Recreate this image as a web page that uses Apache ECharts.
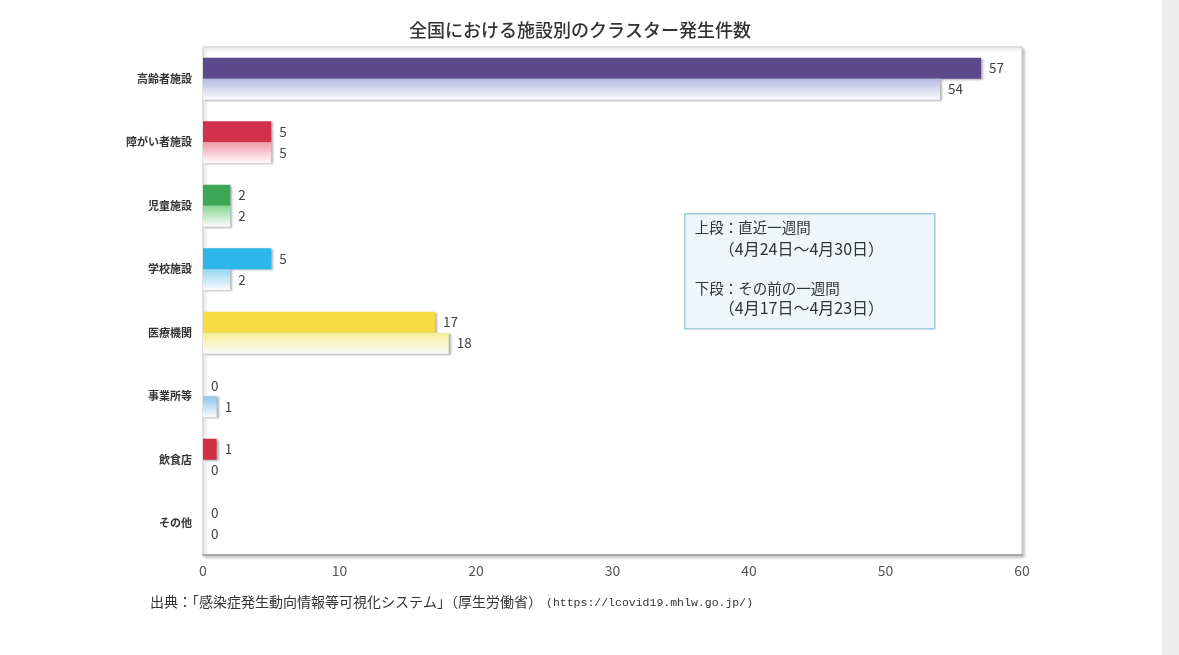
<!DOCTYPE html>
<html>
<head>
<meta charset="utf-8">
<script src="https://cdn.jsdelivr.net/npm/echarts@6/dist/echarts.min.js"></script>
<style>
  html, body { margin: 0; padding: 0; background: #fff; }
  #chart { width: 1179px; height: 655px; }
</style>
</head>
<body>
<div id="chart"></div>
<script>
// 施設の種類
const categories = ['高齢者施設', '障がい者施設', '児童施設', '学校施設', '医療機関', '事業所等', '飲食店', 'その他'];
// 上段：直近一週間（4月24日～4月30日）
const currentWeek = [57, 5, 2, 5, 17, 0, 1, 0];
// 下段：その前の一週間（4月17日～4月23日）
const previousWeek = [54, 5, 2, 2, 18, 1, 0, 0];
const xTicks = [0, 10, 20, 30, 40, 50, 60];

// 色（上段は濃い色、下段は薄いグラデーション）
const solidColors = ['#5a4a8c', '#d2314c', '#3ba757', '#2db6e9', '#f9dc45', '#4aa6dd', '#cf2e45', '#999999'];
const lightColors = ['#b3bbe0', '#f59aa9', '#86d893', '#93d7f3', '#f7ee93', '#8fc4ea', '#f29aa6', '#dddddd'];

const fade = (c) => ({
  type: 'linear', x: 0, y: 0, x2: 0, y2: 1,
  colorStops: [{ offset: 0, color: c }, { offset: 1, color: '#fbfbfd' }]
});

const jpFont = '"Noto Sans CJK JP", "Noto Sans", sans-serif';

const chart = echarts.init(document.getElementById('chart'));
const option = {
  animation: false,
  backgroundColor: '#ffffff',
  textStyle: { fontFamily: jpFont },
  title: {
    text: '全国における施設別のクラスター発生件数',
    left: 575,
    textAlign: 'center',
    top: 16,
    textStyle: { fontSize: 18, fontWeight: 500, color: '#333' }
  },
  grid: {
    left: 203,
    right: 157,
    top: 47,
    bottom: 100,
    show: true,
    borderColor: '#c8c8c8',
    borderWidth: 1,
    shadowColor: 'rgba(0,0,0,0.25)',
    shadowBlur: 3,
    shadowOffsetX: 2,
    shadowOffsetY: 2,
    backgroundColor: '#fff'
  },
  xAxis: {
    type: 'value',
    min: 0,
    max: 60,
    interval: 10,
    axisLine: { show: true, lineStyle: { color: '#9a9a9a', width: 1.5 } },
    axisTick: { show: false },
    splitLine: { show: false },
    axisLabel: {
      color: '#555',
      fontSize: 14,
      margin: 9,
      formatter: (v) => xTicks.includes(v) ? String(v) : ''
    }
  },
  yAxis: {
    type: 'category',
    inverse: true,
    data: categories,
    axisLine: { show: true, lineStyle: { color: '#d8d8d8' } },
    axisTick: { show: false },
    axisLabel: { color: '#333', fontSize: 11, fontWeight: 'bold', margin: 11 }
  },
  series: [
    {
      name: '上段：直近一週間',
      type: 'bar',
      barWidth: 21,
      barGap: '0%',
      data: currentWeek.map((v, i) => ({
        value: v,
        itemStyle: { color: solidColors[i] }
      })),
      itemStyle: {
        shadowColor: 'rgba(0,0,0,0.3)',
        shadowBlur: 2,
        shadowOffsetX: 2,
        shadowOffsetY: 1
      },
      label: { show: true, position: 'right', distance: 8, color: '#444', fontSize: 13.5 }
    },
    {
      name: '下段：その前の一週間',
      type: 'bar',
      barWidth: 21,
      data: previousWeek.map((v, i) => ({
        value: v,
        itemStyle: { color: fade(lightColors[i]) }
      })),
      itemStyle: {
        shadowColor: 'rgba(0,0,0,0.3)',
        shadowBlur: 2,
        shadowOffsetX: 2,
        shadowOffsetY: 1
      },
      label: { show: true, position: 'right', distance: 8, color: '#444', fontSize: 13.5 }
    }
  ],
  graphic: [
    {
      type: 'rect',
      shape: { x: 1162, y: 0, width: 17, height: 655 },
      style: { fill: '#ececec' },
      silent: true
    },
    {
      type: 'group',
      left: 684,
      top: 213,
      children: [
        {
          type: 'rect',
          shape: { x: 0, y: 0, width: 250, height: 115 },
          style: { fill: '#eef6fa', stroke: '#9fcbe0', lineWidth: 1.5 }
        },
        { type: 'text', x: 10, y: 6, style: { text: '上段：直近一週間', fontSize: 14.5, fill: '#333', fontFamily: jpFont } },
        { type: 'text', x: 34, y: 27, style: { text: '（4月24日～4月30日）', fontSize: 16, fill: '#333', fontFamily: jpFont } },
        { type: 'text', x: 10, y: 67, style: { text: '下段：その前の一週間', fontSize: 14.5, fill: '#333', fontFamily: jpFont } },
        { type: 'text', x: 34, y: 86, style: { text: '（4月17日～4月23日）', fontSize: 16, fill: '#333', fontFamily: jpFont } }
      ]
    },
    {
      type: 'text',
      left: 150,
      top: 595,
      style: {
        text: '出典：「感染症発生動向情報等可視化システム」（厚生労働省）',
        fontSize: 14,
        fill: '#333',
        fontFamily: jpFont
      }
    },
    {
      type: 'text',
      left: 546,
      top: 597,
      style: {
        text: '(https://lcovid19.mhlw.go.jp/)',
        fontSize: 11.5,
        fill: '#333',
        fontFamily: '"Liberation Mono", "DejaVu Sans Mono", monospace'
      }
    }
  ]
};
chart.setOption(option);
window.addEventListener('resize', () => chart.resize());
</script>
</body>
</html>
